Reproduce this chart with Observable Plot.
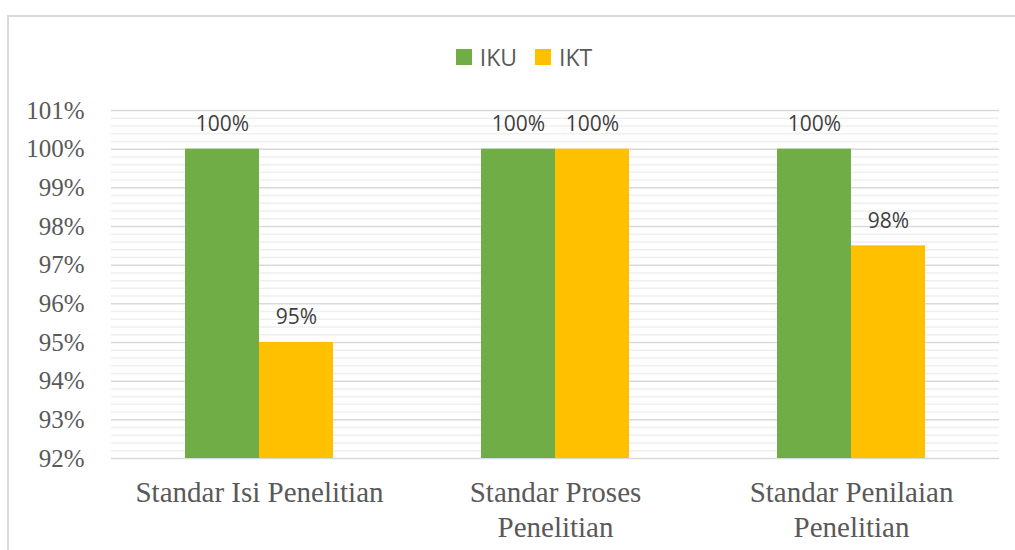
<!DOCTYPE html>
<html>
<head>
<meta charset="utf-8">
<script src="https://cdn.jsdelivr.net/npm/d3@7"></script>
<script src="https://cdn.jsdelivr.net/npm/@observablehq/plot@0.6"></script>
<style>
  html, body { margin: 0; padding: 0; background: #fff; width: 1015px; height: 550px; overflow: hidden; }
  #frame { position: absolute; left: 7px; top: 15px; width: 1100px; height: 600px;
           border-left: 2px solid #d9d9d9; border-top: 2px solid #d9d9d9; box-sizing: border-box; }
  #chart { position: absolute; left: 0; top: 0; }
  #legend { position: absolute; left: 33px; top: 41px; width: 982px; display: flex; justify-content: center;
            font-family: "Open Sans", sans-serif; font-size: 23px; color: #595959; }
  .item { display: flex; align-items: center; margin: 0 9px; }
  .sw { width: 16px; height: 16px; margin-right: 8px; }
</style>
</head>
<body>
<div id="chart"></div>
<div id="frame"></div>
<div id="legend"></div>
<script>
const categories = ["Standar Isi Penelitian", "Standar Proses Penelitian", "Standar Penilaian Penelitian"];
const categoryLabels = ["Standar Isi Penelitian", "Standar Proses\nPenelitian", "Standar Penilaian\nPenelitian"];
const series = ["IKU", "IKT"];
const colors = ["#70AD47", "#FFC000"];
const ikuValues = [1.00, 1.00, 1.00];
const iktValues = [0.95, 1.00, 0.975];
const yMin = 0.92, yMax = 1.01;
const yTicks = [0.92, 0.93, 0.94, 0.95, 0.96, 0.97, 0.98, 0.99, 1.00, 1.01];

const data = [];
categories.forEach((c, i) => {
  data.push({category: c, series: "IKU", value: ikuValues[i]});
  data.push({category: c, series: "IKT", value: iktValues[i]});
});
const minorTicks = d3.ticks(yMin, yMax, 45).filter(t => !yTicks.some(m => Math.abs(m - t) < 1e-9));
const pct = d3.format(".0%");

const plot = Plot.plot({
  width: 1015,
  height: 550,
  marginLeft: 110,
  marginRight: 15,
  marginTop: 110,
  marginBottom: 92,
  style: {background: "transparent", color: "#595959"},
  fx: {domain: categories, paddingInner: 0, paddingOuter: 0},
  x: {domain: series, paddingInner: 0, paddingOuter: 1, axis: null},
  y: {domain: [yMin, yMax]},
  color: {domain: series, range: colors},
  marks: [
    Plot.ruleY(minorTicks, {stroke: "#efefef", strokeWidth: 1.5}),
    Plot.ruleY(yTicks, {stroke: "#d9d9d9", strokeWidth: 1.5}),
    Plot.barY(data, {fx: "category", x: "series", y1: () => yMin, y2: "value", fill: "series"}),
    Plot.text(data, {fx: "category", x: "series", y: "value", text: d => pct(d.value), dy: -25,
      fontFamily: "Open Sans", fontSize: 21, fill: "#404040"}),
    Plot.axisY({ticks: yTicks, tickFormat: pct, tickSize: 0, tickPadding: 27, fontSize: 25,
      fontFamily: "Liberation Serif", label: null}),
    Plot.axisFx({anchor: "bottom", tickSize: 0, tickPadding: 19, fontSize: 29, lineHeight: 1.2,
      fontFamily: "Liberation Serif", label: null,
      tickFormat: d => categoryLabels[categories.indexOf(d)]})
  ]
});
document.getElementById("chart").appendChild(plot);

const legend = document.getElementById("legend");
series.forEach((s, i) => {
  const item = document.createElement("div");
  item.className = "item";
  const sw = document.createElement("span");
  sw.className = "sw";
  sw.style.background = colors[i];
  const lab = document.createElement("span");
  lab.textContent = s;
  item.appendChild(sw);
  item.appendChild(lab);
  legend.appendChild(item);
});
</script>
</body>
</html>
